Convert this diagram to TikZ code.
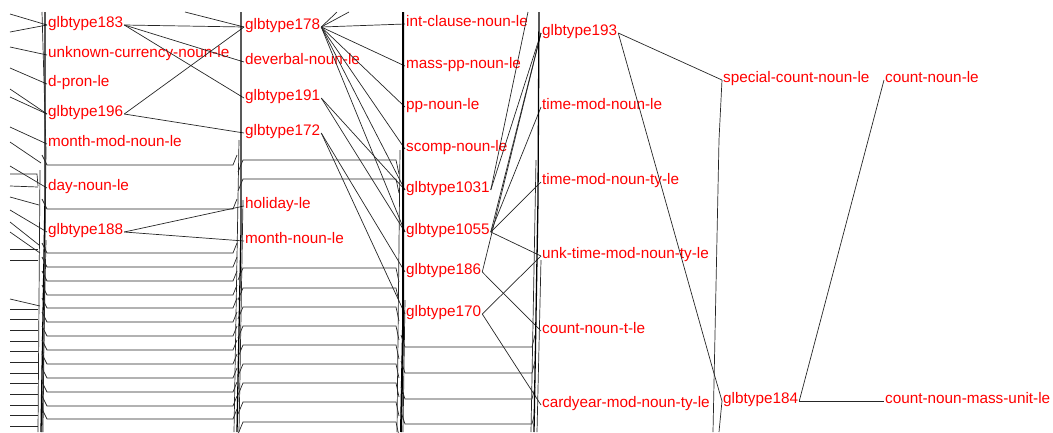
\documentclass[tikz,border=0pt]{standalone}
\usepackage{fontspec}
\setmainfont{Liberation Sans}
\begin{document}
\tikzset{
  lbl/.style={anchor=west, inner sep=1pt, text=red, font=\fontsize{15.3}{18}\selectfont, text height=5.4pt, text depth=0pt},
  edge/.style={draw=black!85, line width=0.7pt},
  bundle/.style={draw=black, line width=1.3pt},
}
\begin{tikzpicture}[x=1pt,y=-1pt]
\useasboundingbox (0,0) rectangle (1053,432);
\clip (0,0) rectangle (1053,432);
% column 1
\node[lbl] (n183) at (47,25) {glbtype183};
\node[lbl] (nunk) at (47,55) {unknown-currency-noun-le};
\node[lbl] (ndpron) at (47,84) {d-pron-le};
\node[lbl] (n196) at (47,114) {glbtype196};
\node[lbl] (nmmn) at (47,144) {month-mod-noun-le};
\node[lbl] (nday) at (47,188) {day-noun-le};
\node[lbl] (n188) at (47,232) {glbtype188};
% column 2
\node[lbl] (n178) at (244,27) {glbtype178};
\node[lbl] (ndev) at (244,62) {deverbal-noun-le};
\node[lbl] (n191) at (244,98) {glbtype191};
\node[lbl] (n172) at (244,133) {glbtype172};
\node[lbl] (nhol) at (244,206) {holiday-le};
\node[lbl] (nmon) at (244,241) {month-noun-le};
% column 3
\node[lbl] (nint) at (405,24) {int-clause-noun-le};
\node[lbl] (nmpp) at (405,66) {mass-pp-noun-le};
\node[lbl] (npp) at (405,107) {pp-noun-le};
\node[lbl] (nscomp) at (405,149) {scomp-noun-le};
\node[lbl] (n1031) at (405,190) {glbtype1031};
\node[lbl] (n1055) at (405,232) {glbtype1055};
\node[lbl] (n186) at (405,272) {glbtype186};
\node[lbl] (n170) at (405,314) {glbtype170};
% column 4
\node[lbl] (n193) at (541,33) {glbtype193};
\node[lbl] (ntmn) at (541,107) {time-mod-noun-le};
\node[lbl] (ntmnt) at (541,182) {time-mod-noun-ty-le};
\node[lbl] (nunkt) at (541,256) {unk-time-mod-noun-ty-le};
\node[lbl] (ncnt) at (541,331) {count-noun-t-le};
\node[lbl] (ncard) at (541,405) {cardyear-mod-noun-ty-le};
% column 5, 6
\node[lbl] (nspec) at (722,80) {special-count-noun-le};
\node[lbl] (n184) at (722,401) {glbtype184};
\node[lbl] (ncn) at (884,80) {count-noun-le};
\node[lbl] (ncnmu) at (884,401) {count-noun-mass-unit-le};

% off-screen ends
\coordinate (t1) at (185,12);
\coordinate (t2) at (337,12);
\coordinate (t3) at (349,12);
\coordinate (t4) at (528,12);
\coordinate (b1) at (713,432);
\coordinate (b2) at (719,432);
\coordinate (k1) at (719,140);
\coordinate (k2) at (713,370);

% visible edges
\draw[edge] (n183.east) -- (n178.west);
\draw[edge] (n183.east) -- (ndev.west);
\draw[edge] (n183.east) -- (n191.west);
\draw[edge] (n196.east) -- (n178.west);
\draw[edge] (n196.east) -- (n172.west);
\draw[edge] (n188.east) -- (nhol.west);
\draw[edge] (n188.east) -- (nmon.west);
\draw[edge] (t1) -- (n178.west);
\draw[edge] (n178.east) -- (t2);
\draw[edge] (n178.east) -- (t3);
\draw[edge] (n178.east) -- (nint.west);
\draw[edge] (n178.east) -- (nmpp.west);
\draw[edge] (n178.east) -- (npp.west);
\draw[edge] (n178.east) -- (nscomp.west);
\draw[edge] (n178.east) -- (n1031.west);
\draw[edge] (n178.east) -- (n1055.west);
\draw[edge] (n191.east) -- (n1031.west);
\draw[edge] (n191.east) -- (n1055.west);
\draw[edge] (n172.east) -- (n186.west);
\draw[edge] (n172.east) -- (n170.west);
\draw[edge] (n1031.east) -- (t4);
\draw[edge] (n1031.east) -- (n193.west);
\draw[edge] (n1055.east) -- (n193.west);
\draw[edge] (n1055.east) -- (ntmn.west);
\draw[edge] (n1055.east) -- (ntmnt.west);
\draw[edge] (n1055.east) -- (nunkt.west);
\draw[edge] (n186.east) -- (n193.west);
\draw[edge] (n186.east) -- (ncnt.west);
\draw[edge] (n170.east) -- (nunkt.west);
\draw[edge] (n170.east) -- (ncard.west);
\draw[edge] (n193.east) -- (nspec.west);
\draw[edge] (n193.east) -- (k2) -- (n184.west);
\draw[edge] (nspec.west) -- (k1) -- (b1);
\draw[edge] (n184.west) -- (b2);
\draw[edge] (n184.east) -- (ncn.west);
\draw[edge] (n184.east) -- (ncnmu.west);

% edges entering from the left border
\draw[edge] (10,14) -- (n183.west);
\draw[edge] (10,32) -- (n183.west);
\draw[edge] (10,47) -- (nunk.west);
\draw[edge] (10,68) -- (ndpron.west);
\draw[edge] (10,89) -- (n196.west);
\draw[edge] (10,97) -- (n196.west);
\draw[edge] (10,127) -- (nmmn.west);
\draw[edge] (10,142) -- (41,163);
\draw[edge] (10,166) -- (nday.west);
\draw[edge] (10,174) -- (37,174) -- (38,186);
\draw[edge] (10,186) -- (38,187);
\draw[edge] (10,197) -- (39,205);
\draw[edge] (10,210) -- (n188.west);
\draw[edge] (10,222) -- (39,245);
\draw[edge] (10,232) -- (40,253);
\draw[edge] (10,299) -- (40,306);
\foreach \y in {249,260,309,319,330,341,351,362,373,383,394,405,415,426}
  \draw[edge] (10,\y) -- (38,\y);

% bundles of through-going edges
\draw[bundle] (45,12) -- (45,200) -- (41,432);
\draw[edge] (42,12) -- (46,150) -- (43,432);
\draw[edge] (40,170) -- (38,432);
\draw[edge] (46,240) -- (42,432);
\draw[bundle] (241,12) -- (241,230) -- (237,432);
\draw[edge] (239,140) -- (234,432);
\draw[edge] (243,200) -- (239,432);
\draw[draw=black, line width=2pt] (403,12) -- (403,330) -- (401,432);
\draw[edge] (400,150) -- (397,432);
\draw[edge] (405,300) -- (403,432);
\draw[bundle] (539,12) -- (538,200) -- (534,432);
\draw[edge] (536,160) -- (531,432);
\draw[edge] (541,260) -- (537,432);

% ladders between columns
\foreach \y in {165,209,253,267,281,295,308,322,336,350,364,378,392,406,419}
  \draw[edge] (42,\y-10) -- (47,\y) -- (233,\y) -- (237,\y-10);
\foreach \y in {160,179,268,288,307,326,345,364,383,402,422}
  \draw[edge] (238,\y+12) -- (243,\y) -- (396,\y) -- (399,\y+14);
\foreach \y in {347,373,399,424}
  \draw[edge] (401,\y-12) -- (405,\y) -- (532,\y) -- (535,\y-12);
\end{tikzpicture}
\end{document}
